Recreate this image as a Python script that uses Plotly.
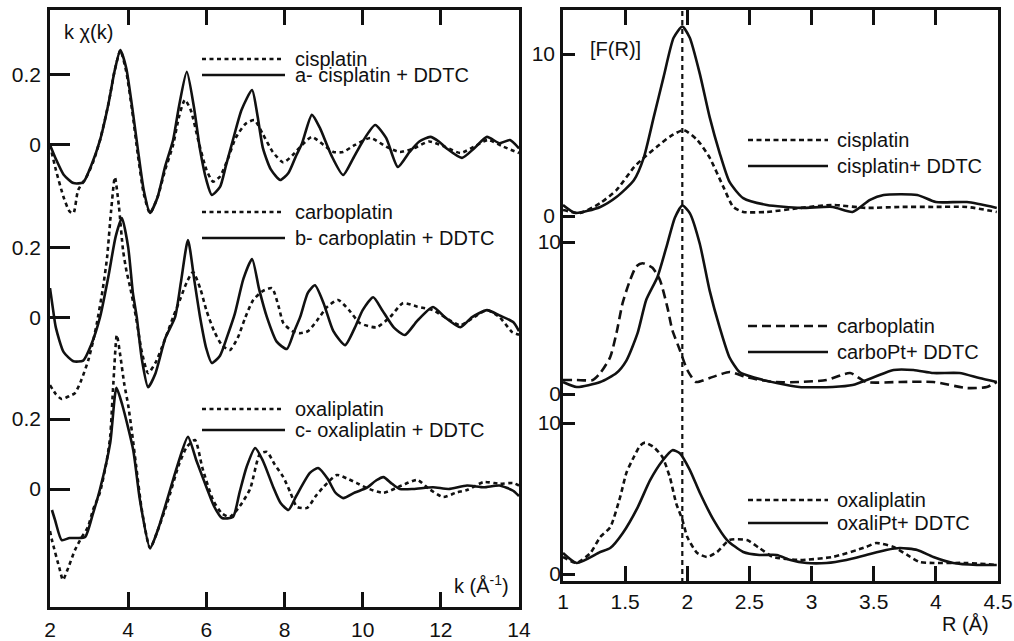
import plotly.graph_objects as go

# ---------------- data: left panel, k*chi(k) ----------------
k_cis = [2.0, 2.15, 2.35, 2.5, 2.6, 2.72, 2.94, 3.1, 3.28, 3.5, 3.65, 3.8, 3.95, 4.1, 4.25, 4.4, 4.56, 4.75, 4.95,
         5.15, 5.3, 5.45, 5.6, 5.8, 6.0, 6.17, 6.35, 6.55, 6.75, 7.0, 7.23, 7.45, 7.7, 7.97, 8.2, 8.45, 8.7, 9.0,
         9.25, 9.5, 9.8, 10.2, 10.6, 10.95, 11.3, 11.7, 12.1, 12.5, 12.85, 13.2, 13.6, 14.0]
chi_cis = [0.0, -0.071, -0.15, -0.19, -0.195, -0.129, -0.09, -0.05, 0.014, 0.12, 0.21, 0.27, 0.21, 0.1, -0.03,
           -0.14, -0.195, -0.15, -0.07, 0.0, 0.08, 0.129, 0.1, 0.01, -0.07, -0.105, -0.09, -0.04, 0.02, 0.06, 0.071,
           0.03, -0.02, -0.05, -0.03, 0.0, 0.023, 0.0, -0.02, -0.02, 0.0, 0.02, -0.005, -0.02, -0.01, 0.01, -0.005,
           -0.023, -0.005, 0.014, -0.005, -0.023]

k_cis_ddtc = [2.0, 2.15, 2.35, 2.6, 2.85, 3.05, 3.28, 3.5, 3.65, 3.8, 3.95, 4.1, 4.25, 4.4, 4.56, 4.75, 4.95, 5.15,
              5.3, 5.5, 5.68, 5.84, 6.0, 6.14, 6.35, 6.5, 6.68, 6.9, 7.17, 7.3, 7.45, 7.65, 7.89, 8.1, 8.3, 8.45,
              8.7, 8.9, 9.2, 9.5, 9.75, 10.0, 10.32, 10.6, 10.9, 11.2, 11.45, 11.73, 11.95, 12.15, 12.54, 12.85,
              13.18, 13.5, 13.77, 14.0]
chi_cis_ddtc = [0.0, -0.04, -0.085, -0.109, -0.107, -0.06, 0.014, 0.12, 0.21, 0.271, 0.22, 0.11, -0.014, -0.13,
                -0.194, -0.15, -0.06, 0.014, 0.11, 0.209, 0.11, -0.014, -0.1, -0.143, -0.12, -0.06, 0.014, 0.1,
                0.157, 0.09, -0.01, -0.07, -0.1, -0.08, -0.03, 0.005, 0.086, 0.05, -0.03, -0.086, -0.04, 0.01,
                0.057, 0.02, -0.063, -0.02, 0.01, 0.023, 0.01, -0.01, -0.037, -0.01, 0.023, 0.005, 0.014, -0.01]

k_carbo = [2.0, 2.15, 2.3, 2.5, 2.64, 2.8, 2.98, 3.1, 3.2, 3.35, 3.46, 3.56, 3.66, 3.76, 3.87, 3.96, 4.05, 4.2,
           4.35, 4.51, 4.7, 4.85, 5.0, 5.15, 5.35, 5.5, 5.66, 5.85, 6.0, 6.2, 6.4, 6.6, 6.8, 7.0, 7.2, 7.45, 7.68,
           7.85, 7.97, 8.2, 8.4, 8.6, 8.83, 9.1, 9.37, 9.65, 9.93, 10.35, 10.7, 11.03, 11.4, 11.8, 12.1, 12.5,
           12.85, 13.18, 13.5, 13.83, 14.0]
chi_carbo = [-0.194, -0.22, -0.234, -0.225, -0.217, -0.18, -0.123, -0.07, -0.017, 0.08, 0.17, 0.3, 0.40, 0.32,
             0.19, 0.13, 0.086, 0.0, -0.1, -0.16, -0.13, -0.09, -0.046, 0.0, 0.057, 0.1, 0.129, 0.08, 0.02, -0.04,
             -0.08, -0.094, -0.06, 0.0, 0.049, 0.075, 0.083, 0.03, -0.017, -0.04, -0.046, -0.04, -0.01, 0.03,
             0.049, 0.02, -0.017, -0.029, 0.0, 0.04, 0.03, 0.02, 0.0, -0.023, 0.0, 0.02, 0.0, -0.043, -0.05]

k_carbo_ddtc = [2.0, 2.08, 2.15, 2.35, 2.6, 2.85, 3.05, 3.28, 3.5, 3.68, 3.84, 4.0, 4.12, 4.22, 4.35, 4.51, 4.7,
                4.95, 5.2, 5.35, 5.53, 5.7, 5.84, 6.0, 6.14, 6.35, 6.55, 6.73, 6.95, 7.17, 7.35, 7.55, 7.8, 8.06,
                8.25, 8.4, 8.6, 8.78, 9.0, 9.25, 9.55, 9.8, 10.0, 10.27, 10.5, 10.8, 11.08, 11.4, 11.8, 12.1,
                12.5, 12.8, 13.18, 13.5, 13.85, 14.0]
chi_carbo_ddtc = [0.083, 0.02, -0.03, -0.1, -0.126, -0.124, -0.08, 0.0, 0.12, 0.23, 0.283, 0.2, 0.07, 0.0, -0.12,
                  -0.2, -0.16, -0.06, 0.0, 0.1, 0.22, 0.1, 0.0, -0.09, -0.131, -0.11, -0.05, 0.01, 0.11, 0.166,
                  0.08, 0.0, -0.07, -0.091, -0.04, 0.0, 0.07, 0.091, 0.04, -0.04, -0.08, -0.03, 0.02, 0.057, 0.02,
                  -0.03, -0.051, -0.01, 0.029, 0.0, -0.029, 0.0, 0.02, 0.005, -0.014, -0.04]

k_oxali = [2.0, 2.05, 2.25, 2.33, 2.45, 2.64, 2.8, 2.97, 3.1, 3.28, 3.45, 3.54, 3.62, 3.71, 3.8, 3.9, 4.0, 4.1,
           4.2, 4.35, 4.56, 4.75, 5.0, 5.3, 5.5, 5.71, 5.9, 6.17, 6.4, 6.6, 6.85, 7.12, 7.37, 7.55, 7.75, 7.97,
           8.15, 8.32, 8.58, 8.8, 9.0, 9.34, 9.6, 9.85, 10.1, 10.53, 11.0, 11.4, 11.7, 12.06, 12.4, 12.67, 13.1,
           13.5, 13.85, 14.0]
chi_oxali = [-0.12, -0.146, -0.23, -0.26, -0.23, -0.174, -0.14, -0.109, -0.06, -0.009, 0.08, 0.15, 0.3, 0.44,
             0.38, 0.3, 0.24, 0.16, 0.07, -0.06, -0.169, -0.12, -0.04, 0.07, 0.12, 0.14, 0.06, -0.031, -0.07,
             -0.08, -0.05, 0.0, 0.1, 0.106, 0.07, 0.034, -0.01, -0.051, -0.054, -0.02, 0.006, 0.04, 0.03, 0.017,
             0.003, -0.011, 0.01, 0.026, 0.0, -0.023, -0.01, -0.003, 0.02, 0.015, 0.017, 0.01]

k_oxali_ddtc = [2.05, 2.13, 2.3, 2.5, 2.7, 2.9, 3.1, 3.28, 3.54, 3.7, 3.85, 4.13, 4.3, 4.56, 4.75, 5.0, 5.25, 5.53,
                5.75, 6.02, 6.2, 6.4, 6.68, 6.85, 7.03, 7.25, 7.45, 7.71, 7.9, 8.1, 8.3, 8.65, 8.86, 9.1, 9.3,
                9.5, 9.8, 10.1, 10.35, 10.53, 10.75, 10.95, 11.3, 11.8, 12.2, 12.67, 13.1, 13.5, 13.85, 14.0]
chi_oxali_ddtc = [-0.06, -0.089, -0.146, -0.14, -0.14, -0.137, -0.07, 0.0, 0.131, 0.289, 0.24, 0.111, -0.031,
                  -0.169, -0.12, -0.03, 0.063, 0.149, 0.08, 0.0, -0.05, -0.083, -0.08, -0.01, 0.063, 0.117, 0.08,
                  0.006, -0.04, -0.06, -0.02, 0.046, 0.06, 0.03, -0.01, -0.026, -0.01, 0.003, 0.025, 0.034,
                  0.015, 0.0, 0.0, 0.005, 0.0, 0.01, 0.005, 0.01, -0.005, -0.02]

# vertical offsets of the three stacked left curves
offsets_k = [0.983, 0.491, 0.0]

# ---------------- data: right panel, |F(R)| ----------------
R_cis = [1.0, 1.14, 1.3, 1.43, 1.57, 1.65, 1.76, 1.86, 1.97, 2.08, 2.18, 2.29, 2.37, 2.45, 2.64, 2.91, 3.17,
         3.44, 3.71, 3.98, 4.25, 4.49]
F_cis = [0.37, 0.19, 0.8, 1.6, 3.0, 3.6, 4.3, 4.9, 5.3, 4.7, 3.6, 1.8, 0.56, 0.25, 0.25, 0.5, 0.68, 0.5, 0.56,
         0.56, 0.56, 0.25]
R_cis_ddtc = [1.0, 1.1, 1.3, 1.43, 1.57, 1.65, 1.73, 1.81, 1.89, 1.96, 2.02, 2.1, 2.18, 2.26, 2.34, 2.45, 2.64,
              2.91, 3.17, 3.33, 3.47, 3.58, 3.85, 4.0, 4.25, 4.49]
F_cis_ddtc = [0.68, 0.19, 0.56, 1.17, 2.2, 3.6, 6.1, 8.6, 11.0, 11.7, 11.0, 8.8, 6.1, 3.9, 2.1, 1.1, 0.68, 0.5,
              0.56, 0.25, 1.0, 1.3, 1.3, 0.86, 0.86, 0.5]

R_carbo = [1.0, 1.11, 1.24, 1.3, 1.38, 1.43, 1.48, 1.54, 1.59, 1.64, 1.72, 1.78, 1.84, 1.88, 1.94, 2.0, 2.07,
           2.18, 2.34, 2.48, 2.69, 2.9, 3.12, 3.31, 3.44, 3.71, 3.98, 4.25, 4.41, 4.49]
F_carbo = [0.92, 0.92, 0.92, 1.38, 2.43, 4.0, 6.0, 7.5, 8.4, 8.6, 8.3, 7.5, 5.7, 4.2, 2.9, 1.58, 0.79, 1.05,
           1.45, 1.1, 0.79, 0.79, 0.92, 1.38, 0.79, 0.79, 0.79, 0.39, 0.46, 0.79]
R_carbo_ddtc = [1.0, 1.11, 1.3, 1.43, 1.51, 1.6, 1.67, 1.76, 1.84, 1.9, 1.96, 2.02, 2.1, 2.18, 2.26, 2.34, 2.42,
                2.53, 2.72, 2.9, 3.17, 3.33, 3.5, 3.66, 3.82, 3.98, 4.19, 4.35, 4.49]
F_carbo_ddtc = [0.79, 0.46, 0.79, 1.38, 2.2, 4.0, 6.2, 7.7, 9.9, 11.6, 12.4, 11.9, 9.9, 6.8, 4.4, 2.4, 1.45,
                1.1, 0.72, 0.46, 0.46, 0.59, 1.1, 1.58, 1.58, 1.38, 1.38, 1.05, 0.79]

R_oxali = [1.0, 1.11, 1.22, 1.3, 1.38, 1.46, 1.51, 1.57, 1.62, 1.66, 1.73, 1.8, 1.86, 1.91, 1.96, 2.0, 2.08,
           2.16, 2.24, 2.34, 2.48, 2.58, 2.69, 2.9, 3.17, 3.44, 3.52, 3.66, 3.77, 3.87, 3.98, 4.25, 4.49]
F_oxali = [1.13, 0.73, 1.39, 2.45, 3.1, 5.1, 6.7, 7.75, 8.5, 8.7, 8.4, 7.75, 6.4, 4.7, 3.6, 2.45, 1.39, 1.13,
           1.46, 2.25, 2.25, 1.72, 1.13, 0.93, 1.13, 1.79, 2.05, 1.79, 1.26, 0.79, 0.73, 0.73, 0.6]
R_oxali_ddtc = [1.0, 1.11, 1.3, 1.38, 1.48, 1.6, 1.7, 1.8, 1.88, 1.94, 2.02, 2.1, 2.21, 2.32, 2.45, 2.58, 2.72,
                2.83, 2.96, 3.12, 3.28, 3.44, 3.6, 3.71, 3.85, 3.98, 4.14, 4.33, 4.49]
F_oxali_ddtc = [1.39, 0.73, 1.46, 1.72, 2.7, 4.4, 6.2, 7.5, 8.2, 8.0, 6.9, 5.4, 3.6, 2.25, 1.46, 1.26, 1.26,
                0.93, 0.73, 0.73, 0.93, 1.26, 1.59, 1.72, 1.59, 1.13, 0.73, 0.6, 0.6]

R_ref = 1.96  # vertical reference line

left_labels = [("cisplatin", "a- cisplatin + DDTC"),
               ("carboplatin", "b- carboplatin + DDTC"),
               ("oxaliplatin", "c- oxaliplatin + DDTC")]
right_labels = [("cisplatin", "cisplatin+ DDTC"),
                ("carboplatin", "carboPt+ DDTC"),
                ("oxaliplatin", "oxaliPt+ DDTC")]

# ---------------- figure ----------------
W, H = 1014, 641
FONT = "Liberation Sans, Arial, Helvetica, sans-serif"
BLACK = "#111111"
DOT = "4px,3.5px"
DASH_R = "5px,3.5px"
DASH_LONG = "9px,5px"


def px(x):
    return x / W


def py(y):
    return 1 - y / H


fig = go.Figure()

left_sets = [(k_cis, chi_cis, k_cis_ddtc, chi_cis_ddtc),
             (k_carbo, chi_carbo, k_carbo_ddtc, chi_carbo_ddtc),
             (k_oxali, chi_oxali, k_oxali_ddtc, chi_oxali_ddtc)]
for (kd, cd, ks, cs), off, labs in zip(left_sets, offsets_k, left_labels):
    fig.add_trace(go.Scatter(x=kd, y=[v + off for v in cd], mode="lines", name=labs[0],
                             line=dict(color=BLACK, width=2.6, dash=DOT, shape="spline", smoothing=0.6),
                             xaxis="x", yaxis="y", showlegend=False))
    fig.add_trace(go.Scatter(x=ks, y=[v + off for v in cs], mode="lines", name=labs[1],
                             line=dict(color=BLACK, width=2.6, shape="spline", smoothing=0.6),
                             xaxis="x", yaxis="y", showlegend=False))

right_sets = [(R_cis, F_cis, R_cis_ddtc, F_cis_ddtc, "y2", DASH_R),
              (R_carbo, F_carbo, R_carbo_ddtc, F_carbo_ddtc, "y3", DASH_LONG),
              (R_oxali, F_oxali, R_oxali_ddtc, F_oxali_ddtc, "y4", DASH_R)]
for (rd, fd, rs, fs, ya, dsh), labs in zip(right_sets, right_labels):
    fig.add_trace(go.Scatter(x=rd, y=fd, mode="lines", name=labs[0],
                             line=dict(color=BLACK, width=2.6, dash=dsh, shape="spline", smoothing=0.6),
                             xaxis="x2", yaxis=ya, showlegend=False))
    fig.add_trace(go.Scatter(x=rs, y=fs, mode="lines", name=labs[1],
                             line=dict(color=BLACK, width=2.6, shape="spline", smoothing=0.6),
                             xaxis="x2", yaxis=ya, showlegend=False))

# ---------------- axes ----------------
L_x0, L_x1, L_y0, L_y1 = 50, 519, 10, 607
R_x0, R_x1, R_y0, R_y1 = 563, 998, 10, 581

tickfont = dict(family=FONT, size=21, color=BLACK)
common = dict(showgrid=False, zeroline=False, showline=True, linecolor=BLACK, linewidth=2.6,
              ticks="inside", tickcolor=BLACK, tickwidth=2.6, tickfont=tickfont, automargin=False)

y_scale = 350.0  # px per unit (left)
c0 = 489
yl_range = [-(L_y1 - c0) / y_scale, (c0 - L_y0) / y_scale]

fig.update_layout(
    width=W, height=H, margin=dict(l=0, r=0, t=0, b=0),
    paper_bgcolor="white", plot_bgcolor="white", showlegend=False,
    xaxis=dict(domain=[px(L_x0), px(L_x1)], range=[2, 14], tickvals=[2, 4, 6, 8, 10, 12, 14],
               ticklen=15, mirror="ticks", anchor="y", ticklabelstandoff=2, **common),
    yaxis=dict(domain=[py(L_y1), py(L_y0)], range=yl_range,
               tickvals=[offsets_k[2], offsets_k[2] + 0.2, offsets_k[1], offsets_k[1] + 0.2,
                         offsets_k[0], offsets_k[0] + 0.2],
               ticktext=["0", "0.2", "0", "0.2", "0", "0.2"],
               ticklen=20, mirror=True, anchor="x", ticklabelstandoff=2, **common),
    xaxis2=dict(domain=[px(R_x0), px(R_x1)], range=[1, 4.5],
                tickvals=[1, 1.5, 2, 2.5, 3, 3.5, 4, 4.5],
                ticktext=["1", "1.5", "2", "2.5", "3", "3.5", "4", "4.5"],
                ticklen=15, mirror="ticks", anchor="y2", ticklabelstandoff=0, **common),
)

# right panel: three overlaid y axes (each sub-panel has its own 0 / 10 scale)
sub_axes = [("yaxis2", 216, 16.2), ("yaxis3", 394, 15.2), ("yaxis4", 574, 15.1)]
for i, (name, zero_px, s) in enumerate(sub_axes):
    rng = [-(R_y1 - zero_px) / s, (zero_px - R_y0) / s]
    d = dict(domain=[py(R_y1), py(R_y0)], range=rng, tickvals=[0, 10], ticktext=["0", "10"],
             ticklen=12, anchor="x2", side="left", ticklabelstandoff=1,
             showgrid=False, zeroline=False, ticks="inside", tickcolor=BLACK, tickwidth=2.6,
             tickfont=tickfont, automargin=False)
    if i == 0:
        d.update(showline=True, linecolor=BLACK, linewidth=2.6, mirror=True)
    else:
        d.update(showline=False, overlaying="y2")
    fig.update_layout({name: d})

# vertical reference line in the right panel
fig.add_shape(type="line", xref="x2", yref="paper", x0=R_ref, x1=R_ref, y0=py(R_y1 + 2), y1=py(R_y0),
              line=dict(color=BLACK, width=2.2, dash="5px,4px"))

# ---------------- legends (drawn as samples + text) ----------------
txtfont = dict(family=FONT, size=20, color=BLACK)


def legend_entry(x0, x1, y, tx, text, dash):
    fig.add_shape(type="line", xref="paper", yref="paper", x0=px(x0), x1=px(x1), y0=py(y), y1=py(y),
                  line=dict(color=BLACK, width=2.6, dash=dash))
    fig.add_annotation(x=px(tx), y=py(y), xref="paper", yref="paper", text=text, showarrow=False,
                       xanchor="left", yanchor="middle", font=txtfont)


left_rows = [(59, 75), (212, 238), (409, 430)]
for (yd, ys), labs in zip(left_rows, left_labels):
    legend_entry(202, 284, yd, 293, labs[0], DOT)
    legend_entry(202, 285, ys, 293, labs[1], "solid")

right_rows = [(140, 166, DASH_R), (326, 352, DASH_LONG), (500, 523, DASH_R)]
for (yd, ys, dsh), labs in zip(right_rows, right_labels):
    legend_entry(748, 828, yd, 835, labs[0], dsh)
    legend_entry(748, 828, ys, 835, labs[1], "solid")

# axis titles / labels
fig.add_annotation(x=px(62), y=py(32), xref="paper", yref="paper", text="k χ(k)", showarrow=False,
                   xanchor="left", yanchor="middle", font=txtfont)
fig.add_annotation(x=px(452), y=py(584), xref="paper", yref="paper", text="k (Å<sup>-1</sup>)",
                   showarrow=False, xanchor="left", yanchor="middle", font=txtfont)
fig.add_annotation(x=px(588), y=py(49), xref="paper", yref="paper", text="[F(R)]", showarrow=False,
                   xanchor="left", yanchor="middle", font=txtfont)
fig.add_annotation(x=px(940), y=py(624), xref="paper", yref="paper", text="R (Å)", showarrow=False,
                   xanchor="left", yanchor="middle", font=txtfont)

fig.write_html("out.html", config={"displayModeBar": False},
               post_script="document.body.style.margin='0';document.body.style.padding='0';")
